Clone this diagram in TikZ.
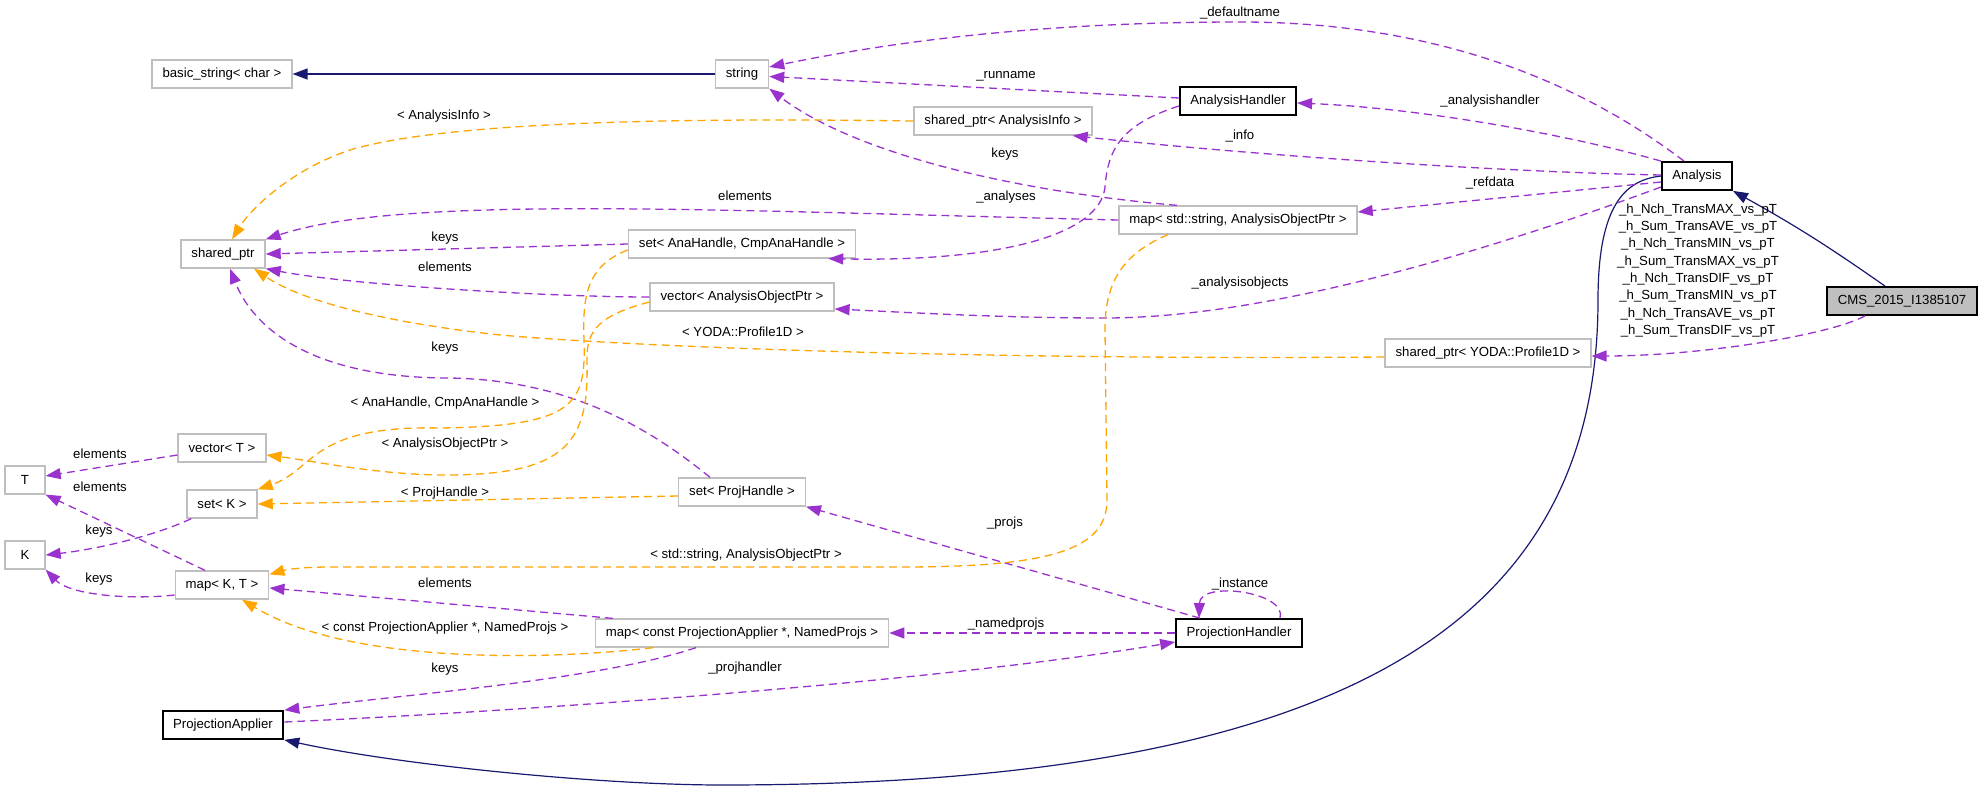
\documentclass[tikz,border=0pt]{standalone}
\usepackage{fontspec}
\setmainfont{Liberation Sans}
\usepackage{tikz}
\usetikzlibrary{arrows.meta}
\usepackage{xcolor}
\definecolor{dxnavy}{RGB}{25,25,112}
\definecolor{dxpurple}{RGB}{154,50,205}
\definecolor{dxorange}{RGB}{255,165,0}
\definecolor{dxgrey}{RGB}{191,191,191}
\tikzstyle{cls} = [draw=dxgrey, line width=1.3pt, fill=white, minimum width=40pt, minimum height=28pt, inner xsep=10.5pt, inner ysep=0pt, font=\fontsize{13.2}{16}\selectfont]
\tikzstyle{doccls} = [cls, draw=black, line width=1.8pt]
\tikzstyle{maincls} = [doccls, fill=dxgrey]
\tikzstyle{lbl} = [font=\fontsize{13.2}{16}\selectfont, inner sep=0pt]
\tikzstyle{inherit} = [draw=dxnavy, line width=1.2pt, -{Triangle[length=15pt,width=11pt]}]
\tikzstyle{uses} = [draw=dxpurple, line width=1.3pt, dash pattern=on 8pt off 5pt, -{Triangle[length=15pt,width=11pt]}]
\tikzstyle{tmpl} = [uses, draw=dxorange]

\begin{document}
\begin{tikzpicture}[x=1pt, y=-1pt]
\useasboundingbox (0,0) rectangle (1981,792);
% classes
\node[cls] (basicstr) at (222,74) {basic\_string< char >};
\node[cls] (str) at (742,74) {string};
\node[doccls] (anahdl) at (1238,101) {AnalysisHandler};
\node[cls] (spinfo) at (1003,121) {shared\_ptr< AnalysisInfo >};
\node[doccls] (ana) at (1697,176) {Analysis};
\node[cls] (mapstr) at (1238,220) {map< std::string, AnalysisObjectPtr >};
\node[cls] (setana) at (742,244) {set< AnaHandle, CmpAnaHandle >};
\node[cls] (sptr) at (223,254) {shared\_ptr};
\node[cls] (vecao) at (742,297) {vector< AnalysisObjectPtr >};
\node[maincls] (cms) at (1902,301) {CMS\_2015\_I1385107};
\node[cls] (spyoda) at (1488,353) {shared\_ptr< YODA::Profile1D >};
\node[cls] (vect) at (222,448) {vector< T >};
\node[cls] (tt) at (25,480) {T};
\node[cls] (setph) at (742,492) {set< ProjHandle >};
\node[cls] (setk) at (222,504) {set< K >};
\node[cls] (kk) at (25,555) {K};
\node[cls] (mapkt) at (222,585) {map< K, T >};
\node[cls] (mappa) at (742,633) {map< const ProjectionApplier *, NamedProjs >};
\node[doccls] (projhdl) at (1239,633) {ProjectionHandler};
\node[doccls] (projapp) at (223,725) {ProjectionApplier};

% inheritance
\draw[inherit] ([xshift=-17pt]cms.north) to[bend right=3] (ana.south east);
\draw[inherit] (str) -- (basicstr);
\draw[inherit] (ana.west) .. controls (1625,180) and (1598,205) .. (1598,300)
  .. controls (1598,620) and (1350,785) .. (722,785)
  .. controls (600,785) and (400,765) .. (projapp.south east);

% members
\draw[uses] ([xshift=-13pt]ana.north) .. controls (1610,105) and (1470,22) .. (1240,22)
  .. controls (1050,22) and (900,40) .. ([yshift=7pt]str.east);
\draw[uses] ([yshift=3pt]anahdl.west) -- ([yshift=-2.5pt]str.east);
\draw[uses] (ana.north west) .. controls (1570,135) and (1420,108) .. ([yshift=-2pt]anahdl.east);
\draw[uses] ([yshift=1pt]ana.west) .. controls (1500,172) and (1250,155) .. ([xshift=-20pt]spinfo.south east);
\draw[uses] ([yshift=-6pt]ana.west) -- ([yshift=8pt]mapstr.east);
\draw[uses] ([yshift=-11pt]ana.west) .. controls (1450,265) and (1250,318) .. (1105,318)
  .. controls (1000,318) and (900,312) .. ([yshift=-12pt]vecao.east);
\draw[uses] ([yshift=-5pt]anahdl.west) .. controls (1120,125) and (1108,150) .. (1105,187)
  .. controls (1100,235) and (1000,262) .. ([xshift=-28pt]setana.south east);
\draw[uses] ([xshift=-61pt]mapstr.north) .. controls (1000,190) and (850,150) .. (str.south east);
\draw[uses] (mapstr.west) .. controls (700,210) and (400,195) .. (sptr.north east);
\draw[uses] (setana.west) -- (sptr.east);
\draw[uses] (vecao.west) .. controls (550,297) and (350,285) .. (sptr.south east);
\draw[uses] ([xshift=-32pt]setph.north) .. controls (640,420) and (560,380) .. (450,378)
  .. controls (300,378) and (250,320) .. ([xshift=7pt]sptr.south);
\draw[uses] ([yshift=-7pt]vect.west) -- ([yshift=4pt]tt.east);
\draw[uses] ([xshift=5pt]setk.south west) .. controls (150,538) and (90,550) .. (kk.east);
\draw[uses] ([xshift=-17pt]mapkt.north) -- (tt.south east);
\draw[uses] ([yshift=-10pt]mapkt.west) .. controls (130,600) and (70,595) .. (kk.south east);
\draw[uses] ([xshift=18pt]mappa.north west) -- ([yshift=-3pt]mapkt.east);
\draw[uses] ([xshift=-46pt]mappa.south) .. controls (600,680) and (400,695) .. (projapp.north east);
\draw[uses] (projhdl.west) -- (mappa.east);
\draw[uses] ([xshift=-39pt]projhdl.north) -- (setph.south east);
\draw[uses] ([xshift=41pt]projhdl.north) .. controls (1288,592) and (1200,580) .. ([xshift=-40pt]projhdl.north);
\draw[uses] ([yshift=3pt]projapp.east) .. controls (550,710) and (950,680) .. ([yshift=-9pt]projhdl.west);
\draw[uses] ([xshift=-37pt]cms.south) .. controls (1830,335) and (1700,356) .. ([yshift=-3pt]spyoda.east);

% template instances
\draw[tmpl] (spinfo.west) .. controls (700,118) and (450,120) .. (350,150)
  .. controls (290,170) and (250,210) .. ([xshift=9pt]sptr.north);
\draw[tmpl] ([yshift=-4pt]spyoda.west) .. controls (1000,360) and (650,348) .. (500,335)
  .. controls (380,322) and (300,300) .. ([xshift=31pt]sptr.south);
\draw[tmpl] ([yshift=-6pt]setana.west) .. controls (590,265) and (582,290) .. (584,340)
  .. controls (586,405) and (575,426) .. (440,428)
  .. controls (310,425) and (315,470) .. (setk.north east);
\draw[tmpl] ([yshift=-5pt]vecao.west) .. controls (600,315) and (586,330) .. (587,360)
  .. controls (589,440) and (570,475) .. (446,475)
  .. controls (380,475) and (320,462) .. ([yshift=-7pt]vect.east);
\draw[tmpl] ([yshift=-4pt]setph.west) -- (setk.east);
\draw[tmpl] ([xshift=-70pt]mapstr.south) .. controls (1120,255) and (1105,285) .. (1105,330)
  -- (1107,500) .. controls (1107,550) and (1050,567) .. (900,567)
  -- (330,567) .. controls (300,567) and (285,570) .. ([yshift=-4pt]mapkt.north east);
\draw[tmpl] ([xshift=-89pt]mappa.south) .. controls (550,660) and (350,665) .. ([xshift=20pt]mapkt.south);

% edge labels
\node[lbl] (ldefname) at (1240,13) {\_defaultname};
\node[lbl] (lrunname) at (1006,76) {\_runname};
\node[lbl] (lanahdl) at (1490,101) {\_analysishandler};
\node[lbl] (linfo) at (1240,136) {\_info};
\node[lbl] (lstrkeys) at (1005,154) {keys};
\node[lbl] (lrefdata) at (1490,183) {\_refdata};
\node[lbl] (lmapelem) at (745,196) {elements};
\node[lbl] (lanalyses) at (1006,197) {\_analyses};
\node[lbl] (laobjects) at (1240,283) {\_analysisobjects};
\node[lbl] (linfotpl) at (444,116) {< AnalysisInfo >};
\node[lbl] (lsetkeys) at (445,238) {keys};
\node[lbl] (lvecelem) at (445,267) {elements};
\node[lbl] (lyodatpl) at (743,332) {< YODA::Profile1D >};
\node[lbl] (lphkeys) at (445,348) {keys};
\node[lbl] (lanatpl) at (445,403) {< AnaHandle, CmpAnaHandle >};
\node[lbl] (laoptpl) at (445,444) {< AnalysisObjectPtr >};
\node[lbl] (ltelem) at (100,454) {elements};
\node[lbl] (lktelem) at (100,487) {elements};
\node[lbl] (lphtpl) at (445,493) {< ProjHandle >};
\node[lbl] (lprojs) at (1005,523) {\_projs};
\node[lbl] (lkkeys) at (99,531) {keys};
\node[lbl] (lstrtpl) at (746,555) {< std::string, AnalysisObjectPtr >};
\node[lbl] (lktkeys) at (99,579) {keys};
\node[lbl] (lpaelem) at (445,583) {elements};
\node[lbl] (linstance) at (1240,584) {\_instance};
\node[lbl] (lpatpl) at (445,628) {< const ProjectionApplier *, NamedProjs >};
\node[lbl] (lnamed) at (1006,624) {\_namedprojs};
\node[lbl] (lpakeys) at (445,669) {keys};
\node[lbl] (lprojhdl) at (745,668) {\_projhandler};
\node[lbl, align=center, font=\fontsize{13.2}{17.3}\selectfont] (lprofiles) at (1698,270.5)
  {\_h\_Nch\_TransMAX\_vs\_pT\\\_h\_Sum\_TransAVE\_vs\_pT\\\_h\_Nch\_TransMIN\_vs\_pT\\\_h\_Sum\_TransMAX\_vs\_pT\\
   \_h\_Nch\_TransDIF\_vs\_pT\\\_h\_Sum\_TransMIN\_vs\_pT\\\_h\_Nch\_TransAVE\_vs\_pT\\\_h\_Sum\_TransDIF\_vs\_pT};
\end{tikzpicture}
\end{document}
